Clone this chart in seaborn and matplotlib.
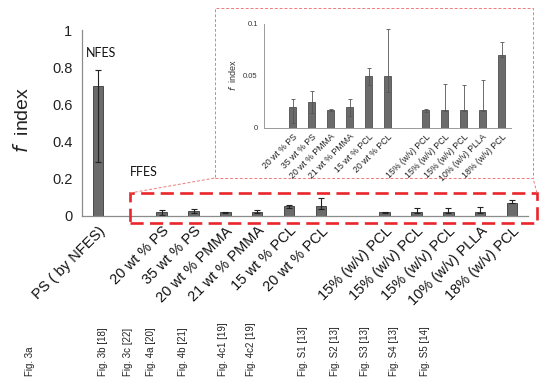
import numpy as np
import pandas as pd
import matplotlib
matplotlib.use("Agg")
import matplotlib.pyplot as plt
import seaborn as sns
from matplotlib.patches import Rectangle
from matplotlib.lines import Line2D

# slots of the main chart (blank ones are gaps)
slot_ids = ['s%d' % i for i in range(14)]
tick_labels = ['PS ( by NFES)', '', '20 wt % PS', '35 wt % PS', '20 wt % PMMA', '21 wt % PMMA',
               '15 wt % PCL', '20 wt % PCL', '', '15% (w/v) PCL', '15% (w/v) PCL',
               '15% (w/v) PCL', '10% (w/v) PLLA', '18% (w/v) PCL']
f_index = [0.70, np.nan, 0.020, 0.025, 0.017, 0.020, 0.050, 0.050, np.nan,
           0.017, 0.017, 0.017, 0.017, 0.070]
err_low = [0.29, np.nan, 0.005, 0.014, 0.016, 0.012, 0.041, 0.035, np.nan,
           0.015, 0.016, 0.016, 0.016, 0.068]
err_high = [0.787, np.nan, 0.028, 0.036, 0.018, 0.028, 0.058, 0.095, np.nan,
            0.018, 0.042, 0.041, 0.046, 0.083]
fig_refs = ['Fig. 3a', 'Fig. 3b [18]', 'Fig. 3c [22]', 'Fig. 4a [20]', 'Fig. 4b [21]',
            'Fig. 4c1 [19]', 'Fig. 4c2 [19]', 'Fig. S1 [13]', 'Fig. S2 [13]',
            'Fig. S3 [13]', 'Fig. S4 [13]', 'Fig. S5 [14]']
fig_ref_x = [30, 103, 128, 151, 183, 223, 251, 303, 335, 365, 394, 425]

df = pd.DataFrame({'slot': slot_ids, 'label': tick_labels, 'f': f_index,
                   'lo': err_low, 'hi': err_high})

sns.set_style('white')
plt.rcParams['font.family'] = ['Liberation Sans', 'DejaVu Sans']
plt.rcParams['mathtext.fontset'] = 'dejavusans'

W, H = 554, 385
fig = plt.figure(figsize=(W / 100, H / 100), dpi=100)

def fx(px):
    return px / W

def fy(py):
    return 1 - py / H

bar_col = '#6b6b6b'
edge_col = '#3a3a3a'
spine_col = '#8c8c8c'

## Main chart ##
ax = fig.add_axes([fx(82), fy(215.5), fx(528) - fx(82), fy(30) - fy(215.5)])
sns.barplot(data=df, x='slot', y='f', order=slot_ids, color=bar_col, errorbar=None,
            width=0.33, edgecolor=edge_col, linewidth=0.6, saturation=1, ax=ax)
pos = np.arange(len(df))
ok = df['f'].notna().values
ax.errorbar(pos[ok], df['f'][ok],
            yerr=[(df['f'] - df['lo'])[ok], (df['hi'] - df['f'])[ok]],
            fmt='none', ecolor='#222222', elinewidth=0.8, capsize=2.5, capthick=0.8)
ax.set_xlim(-0.5, len(df) - 0.5)
ax.set_ylim(0, 1)
ax.set_yticks([0, 0.2, 0.4, 0.6, 0.8, 1.0])
ax.set_yticklabels(['0', '0.2', '0.4', '0.6', '0.8', '1'], fontsize=10.5, color='#222222')
ax.set_xticks(pos)
ax.set_xticklabels(tick_labels, rotation=45, ha='right', va='top', rotation_mode='anchor',
                   fontsize=10.5, color='#111111')
ax.set_xticks(pos[:-1] + 0.5, minor=True)
ax.tick_params(axis='x', which='major', length=0, pad=6)
ax.tick_params(axis='x', which='minor', length=4, color=spine_col, width=0.8)
ax.tick_params(axis='y', length=4, color=spine_col, width=0.8, pad=3)
for s in ['top', 'right']:
    ax.spines[s].set_visible(False)
for s in ['left', 'bottom']:
    ax.spines[s].set_color(spine_col)
    ax.spines[s].set_linewidth(0.9)
ax.set_xlabel('')
ax.set_ylabel('')
fig.text(fx(22), fy(120), r'$f$  index', rotation=90, ha='center', va='center', fontsize=14,
         color='#222222')
fig.text(fx(86), fy(53), 'NFES', fontsize=9, va='center', family='Lato', color='#111111')
fig.text(fx(130), fy(172), 'FFES', fontsize=9, va='center', family='Lato', color='#111111')

## Inset zoom ##
ins = fig.add_axes([fx(264), fy(128), fx(511) - fx(264), fy(24) - fy(128)])
df_in = df.iloc[1:].reset_index(drop=True)
sns.barplot(data=df_in, x='slot', y='f', order=slot_ids[1:], color=bar_col, errorbar=None,
            width=0.36, edgecolor=edge_col, linewidth=0.5, saturation=1, ax=ins)
pos_in = np.arange(len(df_in))
ok_in = df_in['f'].notna().values
ins.errorbar(pos_in[ok_in], df_in['f'][ok_in],
             yerr=[(df_in['f'] - df_in['lo'])[ok_in], (df_in['hi'] - df_in['f'])[ok_in]],
             fmt='none', ecolor='#555555', elinewidth=0.6, capsize=1.5, capthick=0.6)
ins.set_xlim(-0.5, len(df_in) - 0.5)
ins.set_ylim(0, 0.1)
ins.set_yticks([0, 0.05, 0.1])
ins.set_yticklabels(['0', '0.05', '0.1'], fontsize=5.5, color='#333333')
ins.set_xticks(pos_in)
ins.set_xticklabels(tick_labels[1:], rotation=45, ha='right', va='top',
                    rotation_mode='anchor', fontsize=6.3, color='#222222')
ins.tick_params(axis='x', length=0, pad=3)
ins.tick_params(axis='y', length=2.5, color='#999999', width=0.6, pad=2)
for s in ['top', 'right']:
    ins.spines[s].set_visible(False)
for s in ['left', 'bottom']:
    ins.spines[s].set_color('#999999')
    ins.spines[s].set_linewidth(0.7)
ins.set_xlabel('')
ins.set_ylabel('')
fig.text(fx(232), fy(75), r'$f$  index', rotation=90, ha='center', va='center', fontsize=6.5,
         color='#333333')

## Zoom frames ##
red = '#e8262b'
fig.patches.append(Rectangle((fx(130), fy(223)), fx(537) - fx(130), fy(193) - fy(223),
                             transform=fig.transFigure, fill=False, edgecolor=red,
                             linewidth=1.9, linestyle=(0, (5, 2.4))))
light = '#f07a7a'
fig.patches.append(Rectangle((fx(215), fy(178)), fx(533) - fx(215), fy(8) - fy(178),
                             transform=fig.transFigure, fill=False, edgecolor=light,
                             linewidth=0.7, linestyle=(0, (3, 2))))
fig.lines.append(Line2D([fx(130), fx(215)], [fy(193), fy(178)], transform=fig.transFigure,
                        color=light, linewidth=0.7, linestyle=(0, (3, 2))))
fig.lines.append(Line2D([fx(537), fx(533)], [fy(193), fy(178)], transform=fig.transFigure,
                        color=light, linewidth=0.7, linestyle=(0, (3, 2))))

## Source figure references ##
for name, x in zip(fig_refs, fig_ref_x):
    fig.text(fx(x), fy(376), name, rotation=90, ha='center', va='bottom', fontsize=7,
             color='#222222')

plt.savefig('out.png', dpi=100)
